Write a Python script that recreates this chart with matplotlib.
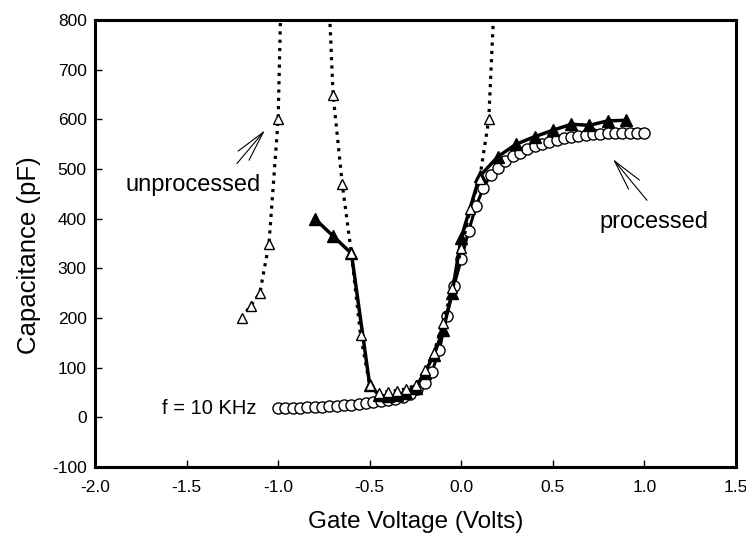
import matplotlib
matplotlib.use("Agg")
import matplotlib.pyplot as plt

plt.rcParams['font.family'] = ['Liberation Sans', 'DejaVu Sans']

# Unprocessed sample (dotted line, open triangles); values above 800 run off the top
unproc_v = [-1.2, -1.15, -1.1, -1.05, -1.0, -0.95, -0.8, -0.7, -0.65, -0.6, -0.55, -0.5,
            -0.45, -0.4, -0.35, -0.3, -0.25, -0.2, -0.15, -0.1, -0.05, 0.0, 0.05, 0.1, 0.15, 0.2]
unproc_c = [200, 225, 250, 350, 600, 1400, 1500, 650, 470, 330, 165, 65,
            50, 52, 54, 57, 65, 95, 130, 190, 260, 340, 420, 480, 600, 1000]

# Processed sample (solid line, filled triangles)
proc_tri_v = [-0.8, -0.7, -0.6, -0.5, -0.45, -0.4, -0.35, -0.3, -0.25, -0.2, -0.15, -0.1,
              -0.05, 0.0, 0.1, 0.2, 0.3, 0.4, 0.5, 0.6, 0.7, 0.8, 0.9]
proc_tri_c = [400, 365, 330, 65, 45, 42, 45, 50, 60, 90, 125, 175,
              250, 362, 485, 525, 550, 565, 578, 590, 588, 597, 598]

# Processed sample (solid line, open circles)
proc_circ_v = [-1.0, -0.96, -0.92, -0.88, -0.84, -0.8, -0.76, -0.72, -0.68, -0.64, -0.6,
               -0.56, -0.52, -0.48, -0.44, -0.4, -0.36, -0.32, -0.28, -0.24, -0.2, -0.16,
               -0.12, -0.08, -0.04, 0.0, 0.04, 0.08, 0.12, 0.16, 0.2, 0.24, 0.28, 0.32,
               0.36, 0.4, 0.44, 0.48, 0.52, 0.56, 0.6, 0.64, 0.68, 0.72, 0.76, 0.8, 0.84,
               0.88, 0.92, 0.96, 1.0]
proc_circ_c = [18, 18, 19, 19, 20, 20, 21, 22, 23, 24, 25,
               27, 28, 30, 32, 34, 37, 41, 47, 57, 70, 92,
               135, 205, 265, 318, 375, 425, 461, 488, 503, 516, 526, 533,
               540, 546, 551, 555, 559, 563, 565, 567, 569, 570, 571, 572, 572,
               573, 573, 572, 572]

x_ticks = [-2.0, -1.5, -1.0, -0.5, 0.0, 0.5, 1.0, 1.5]
y_ticks = [-100, 0, 100, 200, 300, 400, 500, 600, 700, 800]

fig = plt.figure(figsize=(7.46, 5.34), dpi=100)
ax = fig.add_axes([95/746, 1-467/534, (736-95)/746, (467-20)/534])

ax.plot(proc_circ_v, proc_circ_c, '-', color='black', lw=2.2, marker='o', ms=8,
        mfc='white', mec='black', mew=1.0, zorder=2)
ax.plot(proc_tri_v, proc_tri_c, '-', color='black', lw=2.5, marker='^', ms=8,
        mfc='black', mec='black', zorder=3)
ax.plot(unproc_v, unproc_c, color='black', lw=2.3, linestyle=(0, (1, 1.6)),
        dash_capstyle='butt', marker='^', ms=7, mfc='white', mec='black', mew=1.0, zorder=4)

ax.set_xlim(-2.0, 1.5)
ax.set_ylim(-100, 800)
ax.set_xticks(x_ticks)
ax.set_xticklabels([f"{t:.1f}" for t in x_ticks])
ax.set_yticks(y_ticks)
ax.set_yticklabels([str(t) for t in y_ticks])
ax.tick_params(direction='in', length=5, width=1, labelsize=12.5,
               top=False, right=False)
ax.tick_params(axis='x', pad=9)
ax.tick_params(axis='y', pad=6)
for s in ax.spines.values():
    s.set_linewidth(2.2)

ax.set_xlabel('Gate Voltage (Volts)', fontsize=17.5, labelpad=12)
ax.set_ylabel('Capacitance (pF)', fontsize=18.5)
ax.yaxis.set_label_coords(-0.084, 0.474)

ax.text(-1.465, 467, 'unprocessed', fontsize=17, ha='center', va='center')
ax.text(1.052, 393, 'processed', fontsize=17, ha='center', va='center')
ax.text(-1.378, 18, 'f = 10 KHz', fontsize=14.5, ha='center', va='center')

arrow = dict(arrowstyle='->, head_length=1.3, head_width=0.3', lw=0.8, color='black',
             shrinkA=0, shrinkB=0)
ax.annotate('', xy=(-1.072, 578), xytext=(-1.225, 511), arrowprops=arrow, fontsize=17)
ax.annotate('', xy=(0.828, 520), xytext=(1.014, 437), arrowprops=arrow, fontsize=17)

fig.savefig('out.png', dpi=100)
